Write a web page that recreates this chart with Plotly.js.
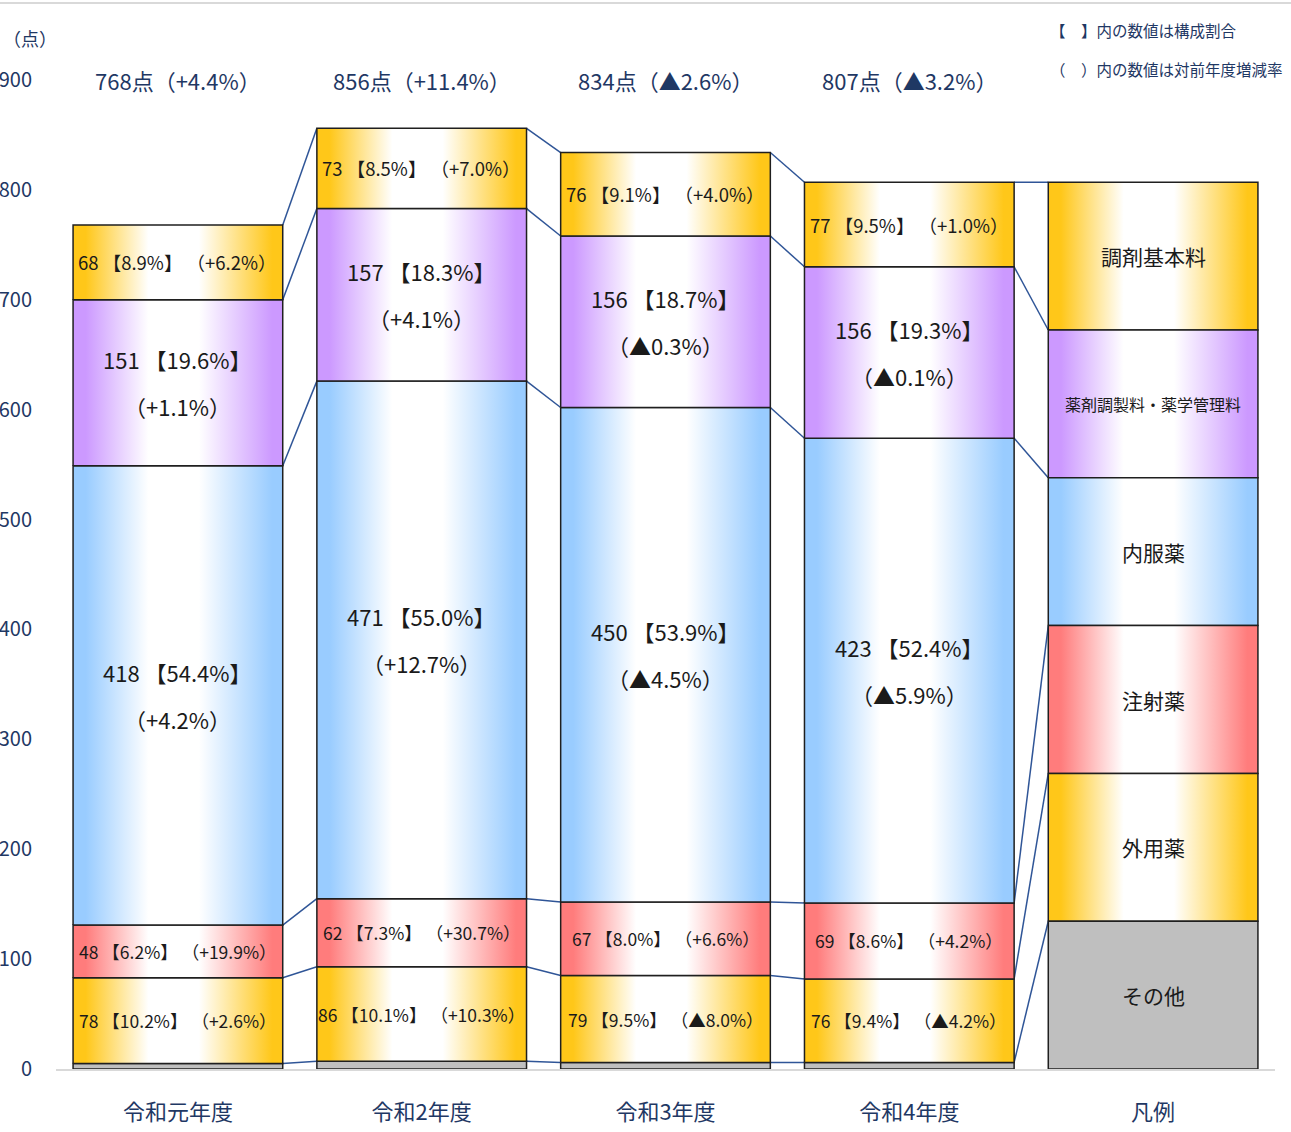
<!DOCTYPE html>
<html><head><meta charset="utf-8">
<script src="https://cdn.plot.ly/plotly-3.0.1.min.js"></script>
<style>html,body{margin:0;padding:0;background:#fff}</style>
</head><body><div id="chart" style="width:1291px;height:1132px"></div>
<script>
// ---- data ----
const years = ['令和元年度','令和2年度','令和3年度','令和4年度'];
const legendTick = '凡例';
const totals = [768, 856, 834, 807];
const totalChange = ['+4.4%','+11.4%','▲2.6%','▲3.2%'];

// series, bottom to top
const other   = [5, 7, 6, 6];
const gaiyo   = [78, 86, 79, 76];
const chusha  = [48, 62, 67, 69];
const naifuku = [418, 471, 450, 423];
const yakuzai = [151, 157, 156, 156];
const kihon   = [68, 73, 76, 77];

const gaiyoShare   = ['10.2%','10.1%','9.5%','9.4%'];
const chushaShare  = ['6.2%','7.3%','8.0%','8.6%'];
const naifukuShare = ['54.4%','55.0%','53.9%','52.4%'];
const yakuzaiShare = ['19.6%','18.3%','18.7%','19.3%'];
const kihonShare   = ['8.9%','8.5%','9.1%','9.5%'];

const gaiyoChange   = ['+2.6%','+10.3%','▲8.0%','▲4.2%'];
const chushaChange  = ['+19.9%','+30.7%','+6.6%','+4.2%'];
const naifukuChange = ['+4.2%','+12.7%','▲4.5%','▲5.9%'];
const yakuzaiChange = ['+1.1%','+4.1%','▲0.3%','▲0.1%'];
const kihonChange   = ['+6.2%','+7.0%','+4.0%','+1.0%'];

// legend column (top to bottom) and its equal segment sizes
const legendNames  = ['調剤基本料','薬剤調製料・薬学管理料','内服薬','注射薬','外用薬','その他'];
const legendValues = [134.5, 134.5, 134.5, 134.5, 134.5, 134.5];

const noteShare  = '【　】内の数値は構成割合';
const noteChange = '（　）内の数値は対前年度増減率';
const unitLabel  = '（点）';

// ---- styling ----
const FONT = '"Noto Sans CJK JP", "Noto Sans", sans-serif';
const NAVY = '#1F3864';
const TXT = '#1a1a1a';
const C_OR = '#FFC719', C_PU = '#CC99FF', C_BL = '#99CCFF', C_RE = '#FF7C7C', C_GR = '#BFBFBF';
const W = 0.86;

const series = [
  {vals: other,   color: C_GR, solid: true},
  {vals: gaiyo,   color: C_OR, share: gaiyoShare,   chg: gaiyoChange,   two: false, size: 17.5},
  {vals: chusha,  color: C_RE, share: chushaShare,  chg: chushaChange,  two: false, size: 17.5},
  {vals: naifuku, color: C_BL, share: naifukuShare, chg: naifukuChange, two: true,  size: 22},
  {vals: yakuzai, color: C_PU, share: yakuzaiShare, chg: yakuzaiChange, two: true,  size: 22},
  {vals: kihon,   color: C_OR, share: kihonShare,   chg: kihonChange,   two: false, size: 18.5}
];
const legendColors = [C_OR, C_PU, C_BL, C_RE, C_OR, C_GR];

function grad(c){
  return {type:'horizontal', colorscale:[[0,c],[0.06,c],[0.36,'#ffffff'],[0.6,'#ffffff'],[0.95,c],[1,c]]};
}
function rect(x0,x1,b,t,color,solid){
  const tr = {type:'scatter', mode:'lines', x:[x0,x1,x1,x0,x0], y:[b,b,t,t,b], fill:'toself',
    line:{color:'#1f1f1f', width:1.5}, hoverinfo:'skip', showlegend:false};
  if (solid) tr.fillcolor = color; else tr.fillgradient = grad(color);
  return tr;
}

const traces = [];
const annotations = [];
const nYears = years.length;

const tops = series.map(()=>[]);
const bots = series.map(()=>[]);
for (let i=0;i<nYears;i++){
  let c = 0;
  series.forEach((s,k)=>{ bots[k][i]=c; c+=s.vals[i]; tops[k][i]=c; });
}
const legBots = [], legTops = [];
{
  let c = 0;
  for (let j=legendNames.length-1;j>=0;j--){ legBots[j]=c; c+=legendValues[j]; legTops[j]=c; }
}
const legIdx = k => legendNames.length-1-k;

// connectors
const cx = [], cy = [];
series.forEach((s,k)=>{
  for (let i=0;i<nYears;i++){
    const yNext = (i<nYears-1) ? tops[k][i+1] : legTops[legIdx(k)];
    cx.push(i+W/2, i+1-W/2, null);
    cy.push(tops[k][i], yNext, null);
  }
});
traces.push({type:'scatter', mode:'lines', x:cx, y:cy, line:{color:'#2F5597', width:1.5}, hoverinfo:'skip', showlegend:false});

// bars
for (let i=0;i<nYears;i++){
  series.forEach((s,k)=>{
    traces.push(rect(i-W/2, i+W/2, bots[k][i], tops[k][i], s.color, s.solid));
    if (s.solid) return;
    const mid = (bots[k][i]+tops[k][i])/2;
    if (s.two){
      annotations.push({x:i, y:mid, xref:'x', yref:'y', text: s.vals[i]+' 【'+s.share[i]+'】', showarrow:false,
        yshift:23.5, font:{family:FONT, size:s.size, color:TXT}});
      annotations.push({x:i, y:mid, xref:'x', yref:'y', text: '（'+s.chg[i]+'）', showarrow:false,
        yshift:-23.5, font:{family:FONT, size:s.size, color:TXT}});
    } else {
      annotations.push({x:i, y:mid, xref:'x', yref:'y', text: s.vals[i]+' 【'+s.share[i]+'】 （'+s.chg[i]+'）', showarrow:false,
        font:{family:FONT, size:s.size, color:TXT}});
    }
  });
  annotations.push({x:i, y:900, xref:'x', yref:'y', text: totals[i]+'点（'+totalChange[i]+'）', showarrow:false,
    font:{family:FONT, size:22, color:NAVY}});
}
// legend column
legendNames.forEach((nm,j)=>{
  traces.push(rect(nYears-W/2, nYears+W/2, legBots[j], legTops[j], legendColors[j], j===legendNames.length-1));
  annotations.push({x:nYears, y:(legBots[j]+legTops[j])/2, xref:'x', yref:'y', text:nm, showarrow:false,
    font:{family:FONT, size: nm.length>6 ? 16 : 21, color:TXT}});
});

annotations.push({xref:'paper', yref:'paper', x:0, y:1, xanchor:'center', yanchor:'middle', xshift:-26, yshift:42,
  text:unitLabel, showarrow:false, font:{family:FONT, size:18, color:NAVY}});
annotations.push({xref:'paper', yref:'paper', x:1, y:1, xanchor:'left', yanchor:'middle', xshift:-227, yshift:50,
  text:noteShare, showarrow:false, font:{family:FONT, size:15.5, color:NAVY}});
annotations.push({xref:'paper', yref:'paper', x:1, y:1, xanchor:'left', yanchor:'middle', xshift:-227, yshift:11,
  text:noteChange, showarrow:false, font:{family:FONT, size:15.5, color:NAVY}});

const layout = {
  width:1291, height:1132,
  margin:{l:56, r:16, t:80, b:63},
  paper_bgcolor:'#ffffff', plot_bgcolor:'#ffffff',
  showlegend:false,
  font:{family:FONT, color:NAVY},
  xaxis:{range:[-0.5, nYears+0.5], tickvals:[0,1,2,3,4], ticktext:years.concat([legendTick]),
    showgrid:false, zeroline:false, showline:true, linecolor:'#d9d9d9', linewidth:2, ticks:'',
    tickfont:{family:FONT, size:22, color:NAVY}, ticklabelstandoff:23, fixedrange:true},
  yaxis:{range:[0,900], tickvals:[0,100,200,300,400,500,600,700,800,900],
    showgrid:false, zeroline:false, showline:false, ticks:'',
    tickfont:{family:FONT, size:20, color:NAVY}, ticklabelstandoff:23, fixedrange:true},
  annotations: annotations,
  shapes:[{type:'line', xref:'paper', yref:'paper', x0:-0.06, x1:1.02, y0:(1069-3)/989, y1:(1069-3)/989,
    line:{color:'#d9d9d9', width:2}}]
};
Plotly.newPlot('chart', traces, layout, {displayModeBar:false, staticPlot:true});
</script>
</body></html>
